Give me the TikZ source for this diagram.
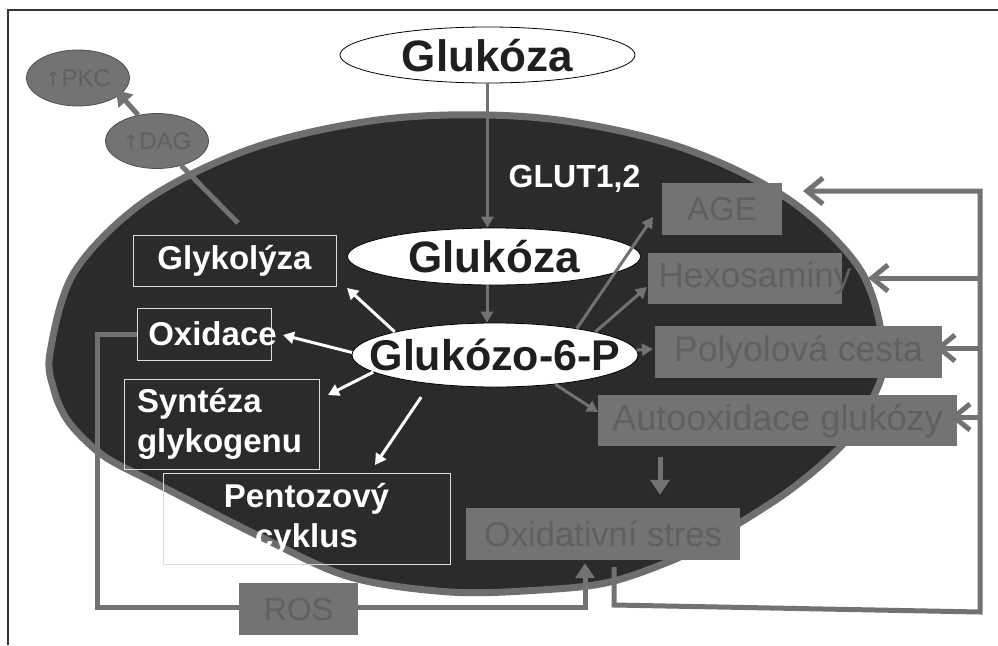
\documentclass[tikz,border=0pt]{standalone}
\usepackage{fontspec}
\setmainfont{Liberation Sans}
\newfontfamily\arrowfont{DejaVu Sans}
\usetikzlibrary{arrows.meta,shapes.geometric}
\definecolor{cellfill}{HTML}{2B2B2B}
\definecolor{cellrim}{HTML}{6E6E6E}
\definecolor{boxgrey}{HTML}{737373}
\definecolor{boxtext}{HTML}{606060}
\definecolor{conn}{HTML}{727272}
\definecolor{wline}{HTML}{DCDCDC}
\definecolor{lipedge}{HTML}{505050}
\begin{document}
\begin{tikzpicture}[x=1pt,y=-1pt,
  every node/.style={inner sep=0pt},
  wbox/.style={draw=wline, line width=1pt, text=white, font=\bfseries\fontsize{33}{40}\selectfont},
  gbox/.style={fill=boxgrey, text=boxtext},
  mol/.style={ellipse, draw=black, fill=white, line width=0.8pt, inner xsep=-30pt, inner ysep=-8pt,
              text=black!88, text height=32pt, text depth=0pt, font=\bfseries\fontsize{44}{44}\selectfont},
  lip/.style={ellipse, draw=lipedge, fill=boxgrey, line width=0.8pt, inner xsep=-20pt, inner ysep=-8pt,
              text=boxtext, font=\fontsize{24}{24}\selectfont},
  warr/.style={draw=white, line width=3pt, -{Triangle[length=11pt,width=12pt]}},
  garr/.style={draw=conn, line width=3pt, -{Triangle[length=11pt,width=12pt]}},
  fb/.style={draw=conn, line width=5pt},
  fbhead/.style={fb, -{Triangle[length=15pt,width=19pt]}},
  fbbarb/.style={fb, -{Straight Barb[length=16pt,width=26pt]}},
]
\useasboundingbox (0,0) rectangle (998,645);
\fill[white] (0,0) rectangle (998,645);
% frame
\draw[line width=1.5pt, black!80] (8,645) -- (8,10) -- (998,10);
% cell
\path[draw=cellrim, fill=cellfill, line width=7pt] plot[smooth cycle, tension=0.55] coordinates {
 (50,353) (54,390) (66,418) (85,440) (110,460) (163,487) (263,538) (350,577)
 (450,592) (540,590) (610,582) (680,557) (723,533) (790,490) (843,444) (872,400)
 (884,353) (861,271) (788,199) (677,146) (541,118) (395,118) (259,146) (148,199) (75,271)};

% molecules
\node[mol, minimum width=295pt, minimum height=56pt] (glcout) at (487.5,55) {Glukóza};
\node[mol, minimum width=293pt, minimum height=57pt] (glcin) at (494,256.5) {Glukóza};
\node[mol, minimum width=286pt, minimum height=64pt, text height=31pt,
      font=\bfseries\fontsize{43}{43}\selectfont] (g6p) at (495,355) {Glukózo-6-P};
\node[text=white, font=\bfseries\fontsize{32}{32}\selectfont] (glut) at (574.5,179) {GLUT1,2};

% white-outlined boxes
\node[wbox, minimum width=203pt, minimum height=51pt] (glyk) at (234.5,260.5) {Glykolýza};
\node[wbox, minimum width=134pt, minimum height=52pt] (oxid) at (204,334) {\makebox[0pt]{\hspace{17pt}Oxidace}};
\node[wbox, minimum height=90pt, text width=195pt, align=left] (synt) at (221.5,424)
  {\hspace*{13pt}Syntéza\\\hspace*{13pt}glykogenu};
\node[wbox, minimum height=91pt, text width=287pt, align=center] (pent) at (306.5,518.5)
  {Pentozový\\cyklus};

% grey boxes
\node[gbox, minimum width=120pt, minimum height=52pt, font=\fontsize{33}{33}\selectfont] (age) at (722,209) {AGE};
\node[gbox, minimum width=194pt, minimum height=51pt, font=\fontsize{35}{35}\selectfont] (hexo) at (745,278.5)
  {\makebox[0pt]{\hspace{20pt}Hexosaminy}};
\node[gbox, minimum width=287pt, minimum height=52pt, font=\fontsize{35.5}{35.5}\selectfont] (poly) at (798.5,352)
  {Polyolová cesta};
\node[gbox, minimum width=359pt, minimum height=51pt, font=\fontsize{36}{36}\selectfont] (auto) at (777.5,420.5)
  {Autooxidace glukózy};
\node[gbox, minimum width=274pt, minimum height=52pt, font=\fontsize{34.5}{34.5}\selectfont] (ostres) at (603,534)
  {Oxidativní stres};

% lipid signalling
\node[lip, minimum width=103pt, minimum height=55pt] (dag) at (157,141) {{\arrowfont\fontsize{20}{20}\selectfont↑}DAG};
\node[lip, minimum width=103pt, minimum height=56pt] (pkc) at (78,78) {{\arrowfont\fontsize{20}{20}\selectfont↑}PKC};

% coordinates (free ends)
\coordinate (tGlyk) at (347,288);
\coordinate (tOxid) at (283,335);
\coordinate (tSynt) at (328,395);
\coordinate (tPent) at (375,465);
\coordinate (tAge) at (653,217);
\coordinate (tHexo) at (647,287);
\coordinate (tPoly) at (653,349);
\coordinate (tAuto) at (598,412);
\coordinate (gdStart) at (238,223);
\coordinate (pkcTip) at (116,90);
\coordinate (fbL1) at (97,334);
\coordinate (fbL2) at (97,607);
\coordinate (fbL3) at (585,607);
\coordinate (fbR0) at (614,567);
\coordinate (fbR1) at (614,605);
\coordinate (fbR2) at (980,612);
\coordinate (fbR3) at (980,191);
\coordinate (bAge) at (803,191);
\coordinate (bHexo) at (868,278);
\coordinate (bPoly) at (935,348);
\coordinate (bAuto) at (950,417);

% transport
\draw[garr] (glcout.south) -- (glcout.south |- glcin.north);
\draw[garr] ([xshift=-7pt]glcin.south) -- ([xshift=-7pt]glcin.south |- g6p.north);

% white arrows
\draw[warr] (g6p.167.5) -- (tGlyk);
\draw[warr] (g6p.179) -- (tOxid);
\draw[warr] (g6p.188) -- (tSynt);
\draw[warr, shorten <=16pt] (g6p.204) -- (tPent);

% grey arrows
\draw[garr] (g6p.18.6) -- (tAge);
\draw[garr] (g6p.13.6) -- (tHexo);
\draw[garr] (g6p.2) -- (tPoly);
\draw[garr] (g6p.334) -- (tAuto);

% DAG / PKC
\draw[fb] (gdStart) -- (dag);
\draw[fbhead] (dag.126) -- (pkcTip);

% autooxidation -> oxidative stress
\draw[fbhead, shorten <=11pt, shorten >=13pt] ([xshift=-117.5pt]auto.south) -- ([xshift=-117.5pt]auto.south |- ostres.north);

% left feedback via ROS
\draw[fbhead, shorten >=3pt] (oxid.west) -- (fbL1) -- (fbL2) -- (fbL3) -- (fbL3 |- ostres.south);
\node[gbox, minimum width=119pt, minimum height=52pt, font=\fontsize{32}{32}\selectfont] (ros) at (298.5,609) {ROS};

% right feedback
\draw[fbbarb] (fbR0) -- (fbR1) -- (fbR2) -- (fbR3) -- (bAge);
\draw[fbbarb] (fbR3 |- bHexo) -- (bHexo);
\draw[fbbarb] (fbR3 |- bPoly) -- (bPoly);
\draw[fbbarb] (fbR3 |- bAuto) -- (bAuto);
\end{tikzpicture}
\end{document}
